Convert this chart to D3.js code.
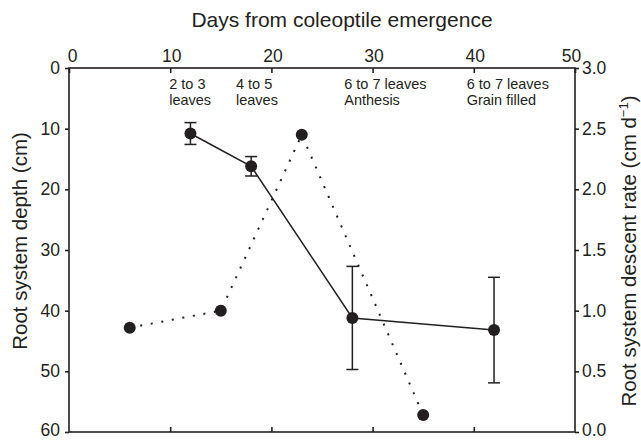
<!DOCTYPE html>
<html lang="en">
<head>
    <meta charset="UTF-8">
    <title>Root system depth and descent rate</title>
    <script src="https://cdn.jsdelivr.net/npm/d3@7/dist/d3.min.js"></script>
    <style>
        body { margin: 0; background: #fff; }
        text { font-family: "Liberation Sans", Arial, sans-serif; fill: #231f20; }
    </style>
</head>
<body>
<svg width="641" height="440"></svg>
<script>
// depth series (solid line, with error bars)
const depthDays = [12, 18, 28, 42];
const depthValues = [10.8, 16.2, 41.2, 43.2];
const depthErr = [1.8, 1.6, 8.5, 8.7];

// descent rate series (dotted line)
const rateDays = [6, 15, 23, 35];
const rateValues = [0.86, 1.0, 2.45, 0.14];

// growth stage notes, placed at day
const stageDays = [9.9, 16.5, 27.2, 39.3];
const stageLines = [["2 to 3", "leaves"], ["4 to 5", "leaves"],
                    ["6 to 7 leaves", "Anthesis"], ["6 to 7 leaves", "Grain filled"]];

const dayTicks = [0, 10, 20, 30, 40, 50];
const depthTicks = [0, 10, 20, 30, 40, 50, 60];
const rateTicks = [0, 0.5, 1.0, 1.5, 2.0, 2.5, 3.0];

const margin = {top: 68, right: 66, bottom: 8, left: 69};
const width = 641 - margin.left - margin.right;
const height = 440 - margin.top - margin.bottom;
const ink = "#231f20";

const svg = d3.select("svg");
const g = svg.append("g")
    .attr("transform", "translate(" + margin.left + "," + margin.top + ")");

const x = d3.scaleLinear().domain([0, 50]).range([0, width]);
const yDepth = d3.scaleLinear().domain([0, 60]).range([0, height]);
const yRate = d3.scaleLinear().domain([0, 3]).range([height, 0]);

// frame
g.append("rect")
    .attr("width", width).attr("height", height)
    .attr("fill", "none").attr("stroke", ink).attr("stroke-width", 1.6);

// top axis (ticks inward)
const topAxis = g.append("g")
    .call(d3.axisTop(x).tickValues(dayTicks).tickSize(-5).tickPadding(6));
// bottom ticks inward, no labels
const bottomAxis = g.append("g")
    .attr("transform", "translate(0," + height + ")")
    .call(d3.axisBottom(x).tickValues(dayTicks.slice(1, -1)).tickSize(-5).tickFormat(""));
const leftAxis = g.append("g")
    .call(d3.axisLeft(yDepth).tickValues(depthTicks).tickSize(4).tickPadding(5));
const rightAxis = g.append("g")
    .attr("transform", "translate(" + width + ",0)")
    .call(d3.axisRight(yRate).tickValues(rateTicks).tickSize(4).tickPadding(3)
        .tickFormat(d3.format(".1f")));

[topAxis, bottomAxis, leftAxis, rightAxis].forEach(a => {
    a.select(".domain").remove();
    a.selectAll(".tick line").attr("stroke", ink).attr("stroke-width", 1.6);
    a.selectAll("text").attr("font-size", 17.5).attr("fill", ink)
        .style("font-family", "'Liberation Sans', Arial, sans-serif");
});
// end labels on the top axis sit a little inward
topAxis.selectAll(".tick text")
    .attr("dx", d => d === 0 ? 3 : d === 50 ? -4 : 1);
// lowest labels sit a touch higher so they stay inside the page
leftAxis.selectAll(".tick text").filter(d => d === 60).attr("dy", "0.2em");
rightAxis.selectAll(".tick text").filter(d => d === 0).attr("dy", "0.2em");

// axis titles
svg.append("text")
    .attr("x", 342).attr("y", 27)
    .attr("text-anchor", "middle").attr("font-size", 21)
    .text("Days from coleoptile emergence");

svg.append("text")
    .attr("transform", "translate(27,241) rotate(-90)")
    .attr("text-anchor", "middle").attr("font-size", 20.5)
    .text("Root system depth (cm)");

const rt = svg.append("text")
    .attr("transform", "translate(636,251) rotate(-90)")
    .attr("text-anchor", "middle").attr("font-size", 20.5);
rt.append("tspan").text("Root system descent rate (cm d");
rt.append("tspan").attr("font-size", 13).attr("dy", -8).text("\u22121");
rt.append("tspan").attr("dy", 8).text(")");

// stage notes
stageDays.forEach((d, i) => {
    const t = g.append("text")
        .attr("x", x(d)).attr("y", 21)
        .attr("font-size", 14.5);
    stageLines[i].forEach((line, j) => {
        t.append("tspan").attr("x", x(d)).attr("dy", j === 0 ? 0 : 16).text(line);
    });
});

// descent rate: dotted line
const rateData = rateDays.map((d, i) => [d, rateValues[i]]);
g.append("path")
    .datum(rateData)
    .attr("fill", "none").attr("stroke", ink)
    .attr("stroke-width", 2).attr("stroke-dasharray", "2,8.7")
    .attr("d", d3.line().x(d => x(d[0])).y(d => yRate(d[1])));
g.selectAll(".rate-dot").data(rateData).join("circle")
    .attr("cx", d => x(d[0])).attr("cy", d => yRate(d[1]))
    .attr("r", 6).attr("fill", ink);

// depth: solid line with error bars
const depthData = depthDays.map((d, i) => ({day: d, v: depthValues[i], e: depthErr[i]}));
const bars = g.selectAll(".err").data(depthData).join("g");
bars.append("line")
    .attr("x1", d => x(d.day)).attr("x2", d => x(d.day))
    .attr("y1", d => yDepth(d.v - d.e)).attr("y2", d => yDepth(d.v + d.e))
    .attr("stroke", ink).attr("stroke-width", 1.5);
bars.selectAll(".cap").data(d => [d.v - d.e, d.v + d.e].map(v => ({day: d.day, v: v})))
    .join("line")
    .attr("x1", d => x(d.day) - 6).attr("x2", d => x(d.day) + 6)
    .attr("y1", d => yDepth(d.v)).attr("y2", d => yDepth(d.v))
    .attr("stroke", ink).attr("stroke-width", 1.5);

g.append("path")
    .datum(depthData)
    .attr("fill", "none").attr("stroke", ink).attr("stroke-width", 1.5)
    .attr("d", d3.line().x(d => x(d.day)).y(d => yDepth(d.v)));
g.selectAll(".depth-dot").data(depthData).join("circle")
    .attr("cx", d => x(d.day)).attr("cy", d => yDepth(d.v))
    .attr("r", 6).attr("fill", ink);
</script>
</body>
</html>
